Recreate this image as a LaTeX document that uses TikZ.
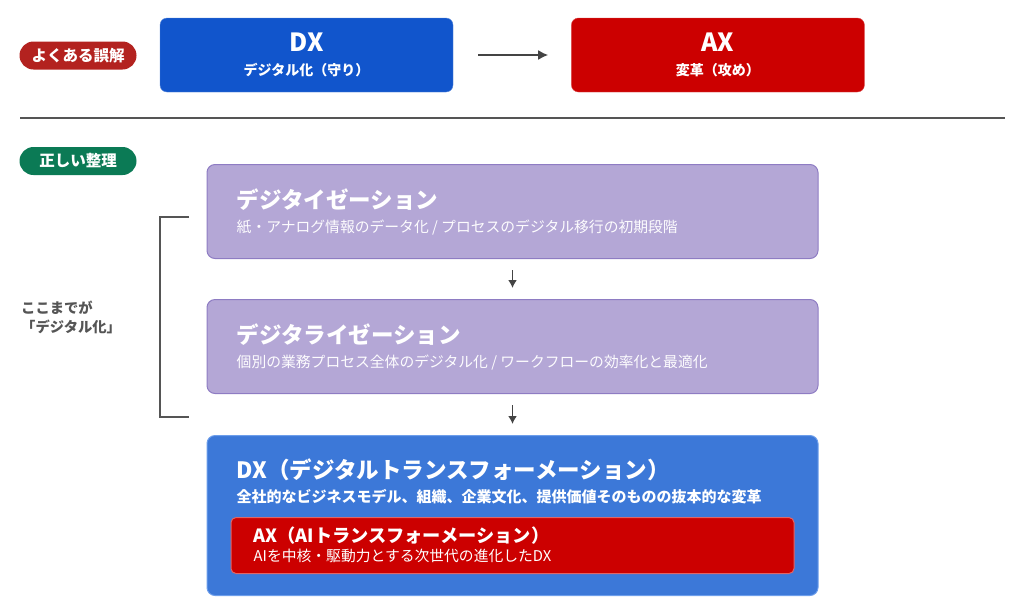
\documentclass[tikz,border=0pt]{standalone}
\usepackage{fontspec}
\setmainfont{Noto Sans CJK JP}
\usepackage{tikz}
\usetikzlibrary{arrows.meta,positioning,calc}
\definecolor{dxblue}{HTML}{1155CC}
\definecolor{axred}{HTML}{CC0000}
\definecolor{pillred}{HTML}{B3221F}
\definecolor{pillgreen}{HTML}{0B7A55}
\definecolor{stagefill}{HTML}{B4A7D6}
\definecolor{stageedge}{HTML}{8E7CC3}
\definecolor{dxfill}{HTML}{3C78D8}
\definecolor{dxedge}{HTML}{6D9EEB}
\definecolor{axedge}{HTML}{E06666}
\definecolor{inkgray}{HTML}{444444}
\definecolor{notegray}{HTML}{555555}
\tikzset{
    tagpill/.style={rounded corners=14pt, minimum width=117pt, minimum height=28pt, inner sep=0pt, text=white, font=\bfseries\fontsize{15.5}{18}\selectfont},
    topbox/.style={rounded corners=7pt, minimum width=293pt, minimum height=74pt, inner sep=0pt, text=white, align=center},
    stagebox/.style={fill=stagefill, draw=stageedge, line width=1pt, rounded corners=8pt, minimum width=611pt, minimum height=94pt, inner sep=0pt},
    stagetitle/.style={anchor=west, inner sep=0pt, text=white, font=\bfseries\fontsize{22.5}{27}\selectfont},
    stagenote/.style={anchor=west, inner sep=0pt, text=white!97!stagefill, font=\fontsize{14.8}{18}\selectfont},
    flowarrow/.style={-{Latex[length=8pt,width=9pt]}, draw=inkgray, line width=1.9pt},
    bracketline/.style={draw=notegray, line width=1.6pt},
    bracketnote/.style={anchor=west, align=left, inner sep=0pt, text=notegray, font=\bfseries\fontsize{14.3}{19}\selectfont}
}
\begin{document}
\begin{tikzpicture}[x=1pt, y=-1pt, node distance=40pt and 118pt]
    \useasboundingbox (0,0) rectangle (1024,603);
    % misconception row
    \node[tagpill, fill=pillred] (wrongtag) at (78,55.5) {よくある誤解};
    \node[topbox, fill=dxblue, draw=dxblue!70!white] (dxtop) at (306.5,55)
        {\raisebox{-2pt}{\bfseries\fontsize{25}{27}\selectfont DX}\\[11pt]{\bfseries\fontsize{14}{17}\selectfont デジタル化（守り）}};
    \node[topbox, fill=axred, draw=axred!70!white, right=of dxtop] (axtop)
        {\raisebox{-2pt}{\bfseries\fontsize{25}{27}\selectfont AX}\\[11pt]{\bfseries\fontsize{14}{17}\selectfont 変革（攻め）}};
    \draw[flowarrow, -{Latex[length=10pt,width=10pt]}, line width=1.8pt, shorten <=25pt, shorten >=23pt] (dxtop) -- (axtop);
    \draw[draw=notegray, line width=1.2pt] (20,118) -- (1005,118);
    % correct ordering
    \node[tagpill, fill=pillgreen] (righttag) at (78,161) {正しい整理};
    \node[stagebox] (digitize) at (512.5,211.5) {};
    \node[stagetitle] (digitizetitle) at ([xshift=30pt, yshift=-36pt]digitize.north west) {デジタイゼーション};
    \node[stagenote] (digitizenote) at ([xshift=30pt, yshift=-64pt]digitize.north west) {紙・アナログ情報のデータ化 / プロセスのデジタル移行の初期段階};
    \node[stagebox, below=of digitize] (digitalize) {};
    \node[stagetitle] (digitalizetitle) at ([xshift=30pt, yshift=-36pt]digitalize.north west) {デジタライゼーション};
    \node[stagenote] (digitalizenote) at ([xshift=30pt, yshift=-64pt]digitalize.north west) {個別の業務プロセス全体のデジタル化 / ワークフローの効率化と最適化};
    \node[stagebox, fill=dxfill, draw=dxedge, minimum height=160pt, below=41pt of digitalize] (dxstage) {};
    \node[stagetitle] (dxtitle) at ([xshift=30pt, yshift=-35pt]dxstage.north west) {DX（デジタルトランスフォーメーション）};
    \node[stagenote, text=white, font=\bfseries\fontsize{15}{18}\selectfont] (dxnote) at ([xshift=30pt, yshift=-62pt]dxstage.north west) {全社的なビジネスモデル、組織、企業文化、提供価値そのものの抜本的な変革};
    \node[fill=axred, draw=axedge, line width=1pt, rounded corners=5pt, minimum width=563pt, minimum height=56pt, inner sep=0pt, anchor=north west] (axstage) at ([xshift=24pt, yshift=-82pt]dxstage.north west) {};
    \node[stagetitle, font=\bfseries\fontsize{18.2}{22}\selectfont] (axtitle) at ([xshift=23pt, yshift=-19pt]axstage.north west) {AX（AIトランスフォーメーション）};
    \node[stagenote, text=white] (axnote) at ([xshift=23pt, yshift=-39pt]axstage.north west) {AIを中核・駆動力とする次世代の進化したDX};
    \draw[flowarrow, shorten <=11pt, shorten >=11pt] (digitize) -- (digitalize);
    \draw[flowarrow, shorten <=11pt, shorten >=11pt] (digitalize) -- (dxstage);
    % bracket for the digital part
    \coordinate (brtop) at (189,217);
    \coordinate (brbot) at (189,417);
    \draw[bracketline] (brtop) -- ++(-29,0) |- (brbot);
    \node[bracketnote] (scopenote) at (21,317) {ここまでが\\「デジタル化」};
\end{tikzpicture}
\end{document}
